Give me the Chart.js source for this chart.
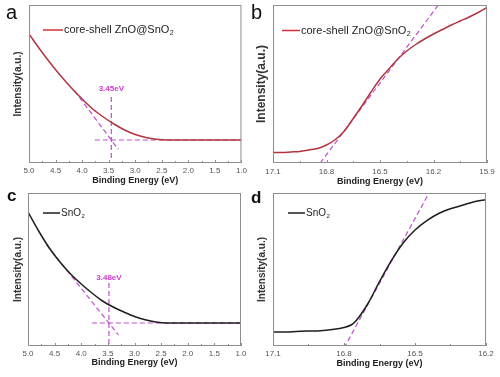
<!DOCTYPE html>
<html lang="en">
<head>
<meta charset="UTF-8">
<title>Binding energy panels</title>
<script src="https://cdn.jsdelivr.net/npm/chart.js"></script>
<style>
  body { margin: 0; background: #fff; }
  .wrap { position: relative; width: 500px; height: 377px; overflow: hidden; }
  canvas { position: absolute; }
  #chartA { left: 0; top: 0; }
  #chartB { left: 250px; top: 0; }
  #chartC { left: 0; top: 188px; }
  #chartD { left: 250px; top: 188px; }
</style>
</head>
<body>
<div class="wrap">
  <canvas id="chartA" width="250" height="190"></canvas>
  <canvas id="chartB" width="250" height="190"></canvas>
  <canvas id="chartC" width="250" height="189"></canvas>
  <canvas id="chartD" width="250" height="189"></canvas>
</div>
<script>
// panel a: core-shell ZnO@SnO2, valence band edge
const energyA = [5.0, 4.8, 4.6, 4.4, 4.2, 4.0, 3.8, 3.6, 3.4, 3.2, 3.0, 2.8, 2.6, 2.4, 2.2, 2.0, 1.8, 1.6, 1.4, 1.2, 1.0];
const intensityA = [129, 114, 100, 87, 75, 64, 54, 46, 39, 33, 28.5, 25.5, 23.7, 23, 23, 23, 23, 23, 23, 23, 23];
const tangentA = [{ x: 4.14, y: 72 }, { x: 3.32, y: 13.7 }];
const dropA = [{ x: 3.45, y: 66 }, { x: 3.45, y: 4 }];
const baseA = [{ x: 3.76, y: 23 }, { x: 1.0, y: 23 }];
const ticksA = [5.0, 4.5, 4.0, 3.5, 3.0, 2.5, 2.0, 1.5, 1.0];

// panel b: core-shell ZnO@SnO2, secondary electron cutoff
const energyB = [17.1, 17.05, 17.0, 16.95, 16.9, 16.85, 16.8, 16.75, 16.7, 16.65, 16.6, 16.55, 16.5,
                 16.45, 16.4, 16.35, 16.3, 16.25, 16.2, 16.15, 16.1, 16.05, 16.0, 15.95, 15.9];
const intensityB = [10.5, 10.5, 11, 11.5, 13, 14.5, 18, 23.5, 32, 44.5, 57.5, 71, 84,
                    94, 104, 112, 118.5, 124, 129, 133.5, 138, 142, 146, 150.5, 155.5];
const tangentB = [{ x: 16.835, y: 0 }, { x: 16.15, y: 163.5 }];
const ticksB = [17.1, 16.8, 16.5, 16.2, 15.9];

// panel c: SnO2, valence band edge
const energyC = [5.0, 4.8, 4.6, 4.4, 4.2, 4.0, 3.8, 3.6, 3.4, 3.2, 3.0, 2.8, 2.6, 2.4, 2.2, 2.0, 1.8, 1.6, 1.4, 1.2, 1.0];
const intensityC = [134, 115, 98, 84, 72, 62, 53, 45, 39, 34, 29.5, 26.2, 24, 23, 23, 23, 23, 23, 23, 23, 23];
const tangentC = [{ x: 4.65, y: 101 }, { x: 3.30, y: 11 }];
const dropC = [{ x: 3.48, y: 63 }, { x: 3.48, y: 1.3 }];
const baseC = [{ x: 3.8, y: 23 }, { x: 1.0, y: 23 }];
const ticksC = [5.0, 4.5, 4.0, 3.5, 3.0, 2.5, 2.0, 1.5, 1.0];

// panel d: SnO2, secondary electron cutoff
const energyD = [17.1, 17.05, 17.0, 16.95, 16.9, 16.85, 16.8, 16.77, 16.75, 16.7, 16.65, 16.6, 16.55,
                 16.5, 16.45, 16.4, 16.35, 16.3, 16.25, 16.2];
const intensityD = [14, 14, 14.5, 15, 15.3, 16.5, 18.5, 21, 25, 42, 64.3, 85.3, 103,
                    116, 125.4, 132.5, 137.2, 140.7, 144.2, 146.3];
const tangentD = [{ x: 16.80, y: -2 }, { x: 16.42, y: 162 }];
const ticksD = [17.1, 16.8, 16.5, 16.2];

const FONT = '"Liberation Sans", Arial, sans-serif';
Chart.defaults.font.family = FONT;
const dashColor = '#c04ed0';

// frame, inward ticks, panel letter, legend and the eV note
const decor = {
    id: 'decor',
    afterDraw(chart, args, o) {
        const { ctx, chartArea: a, scales: { x, y } } = chart;
        ctx.save();
        ctx.strokeStyle = '#8e8e8e';
        ctx.lineWidth = 1;
        ctx.beginPath();
        o.ticks.forEach((v, i) => {
            const px = Math.round(x.getPixelForValue(v)) + 0.5;
            ctx.moveTo(px, a.bottom);
            ctx.lineTo(px, a.bottom - 3);
            if (i < o.ticks.length - 1) {
                const m = Math.round(x.getPixelForValue((v + o.ticks[i + 1]) / 2)) + 0.5;
                ctx.moveTo(m, a.bottom);
                ctx.lineTo(m, a.bottom - 2);
            }
        });
        ctx.stroke();
        ctx.strokeRect(a.left + 0.5, a.top + 0.5, a.right - a.left - 1, a.bottom - a.top - 1);

        ctx.fillStyle = '#111';
        ctx.font = o.letterFont;
        ctx.textBaseline = 'alphabetic';
        ctx.fillText(o.letter, o.letterX, o.letterY);

        ctx.strokeStyle = o.legendColor;
        ctx.lineWidth = 1.5;
        ctx.beginPath();
        ctx.moveTo(o.legendX, o.legendY);
        ctx.lineTo(o.legendX + o.legendLen, o.legendY);
        ctx.stroke();
        ctx.fillStyle = '#222';
        ctx.textBaseline = 'middle';
        ctx.font = o.legendSize + 'px ' + FONT;
        const tx = o.legendX + o.legendLen + 1;
        ctx.fillText(o.legendText, tx, o.legendY);
        const w = ctx.measureText(o.legendText).width;
        ctx.font = Math.round(o.legendSize * 0.6) + 'px ' + FONT;
        ctx.fillText('2', tx + w + 0.5, o.legendY + o.legendSize * 0.32);

        if (o.note) {
            ctx.font = 'bold 8px ' + FONT;
            ctx.fillStyle = '#d03ad0';
            ctx.textAlign = 'center';
            ctx.fillText(o.note.text, x.getPixelForValue(o.note.x), y.getPixelForValue(o.note.y));
        }
        ctx.restore();
    }
};

function makePanel(id, p) {
    const sets = [{
        data: p.energy.map((e, i) => ({ x: e, y: p.intensity[i] })),
        borderColor: p.color,
        borderWidth: 1.5,
        pointRadius: 0,
        cubicInterpolationMode: 'monotone'
    }];
    p.guides.forEach(g => sets.push({
        data: g,
        borderColor: dashColor,
        borderWidth: 1.2,
        borderDash: [5, 3],
        pointRadius: 0
    }));
    return new Chart(document.getElementById(id), {
        type: 'line',
        data: { datasets: sets },
        options: {
            responsive: false,
            animation: false,
            layout: { padding: { left: 0, top: 5, right: p.padRight, bottom: 0 } },
            plugins: {
                legend: { display: false },
                tooltip: { enabled: false },
                decor: p.decor
            },
            scales: {
                x: {
                    type: 'linear',
                    min: p.xMin,
                    max: p.xMax,
                    reverse: true,
                    afterBuildTicks: s => { s.ticks = p.ticks.map(v => ({ value: v })); },
                    afterFit: s => { s.height = p.xHeight; },
                    grid: { display: false, drawTicks: false },
                    border: { display: false },
                    ticks: {
                        padding: p.tickPad, color: '#555', font: { size: 8 },
                        maxRotation: 0, autoSkip: false,
                        callback: v => v.toFixed(1)
                    },
                    title: {
                        display: true, text: 'Binding Energy (eV)', color: '#222',
                        font: { size: 9, weight: 'bold', lineHeight: 1 },
                        padding: { top: 0, bottom: p.xTitlePad }
                    }
                },
                y: {
                    min: 0,
                    max: p.yMax,
                    afterFit: s => { s.width = p.yWidth; },
                    grid: { display: false, drawTicks: false },
                    border: { display: false },
                    ticks: { display: false },
                    title: {
                        display: true, text: 'Intensity(a.u.)', color: '#333',
                        font: { size: p.yTitleSize, weight: 'bold', lineHeight: 1 },
                        padding: { top: p.yTitlePad, bottom: 0 }
                    }
                }
            }
        },
        plugins: [decor]
    });
}

makePanel('chartA', {
    energy: energyA, intensity: intensityA, color: '#b3343f',
    guides: [tangentA, dropA, baseA], ticks: ticksA, xMin: 1.0, xMax: 5.0, yMax: 158,
    padRight: 8, yWidth: 29, xHeight: 27, tickPad: 3, xTitlePad: 4.5, yTitleSize: 10, yTitlePad: 13,
    decor: {
        ticks: ticksA, letter: 'a', letterFont: '20px ' + FONT, letterX: 6, letterY: 19,
        legendText: 'core-shell ZnO@SnO', legendColor: '#d8303a', legendSize: 11,
        legendX: 43, legendY: 30, legendLen: 20,
        note: { text: '3.45eV', x: 3.45, y: 74 }
    }
});

makePanel('chartB', {
    energy: energyB, intensity: intensityB, color: '#b3343f',
    guides: [tangentB], ticks: ticksB, xMin: 15.9, xMax: 17.1, yMax: 158,
    padRight: 13, yWidth: 23, xHeight: 27, tickPad: 4, xTitlePad: 3.8, yTitleSize: 12, yTitlePad: 6,
    decor: {
        ticks: ticksB, letter: 'b', letterFont: '20px ' + FONT, letterX: 1, letterY: 19,
        legendText: 'core-shell ZnO@SnO', legendColor: '#d8303a', legendSize: 11,
        legendX: 32, legendY: 30.5, legendLen: 18
    }
});

makePanel('chartC', {
    energy: energyC, intensity: intensityC, color: '#1e1e1e',
    guides: [tangentC, dropC, baseC], ticks: ticksC, xMin: 1.0, xMax: 5.0, yMax: 153,
    padRight: 9, yWidth: 28, xHeight: 31, tickPad: 3, xTitlePad: 9.5, yTitleSize: 10, yTitlePad: 13,
    decor: {
        ticks: ticksC, letter: 'c', letterFont: 'bold 17px ' + FONT, letterX: 7, letterY: 13,
        legendText: 'SnO', legendColor: '#1e1e1e', legendSize: 10,
        legendX: 43, legendY: 25, legendLen: 17,
        note: { text: '3.48eV', x: 3.48, y: 68.7 }
    }
});

makePanel('chartD', {
    energy: energyD, intensity: intensityD, color: '#1e1e1e',
    guides: [tangentD], ticks: ticksD, xMin: 16.2, xMax: 17.1, yMax: 153,
    padRight: 14, yWidth: 23, xHeight: 31, tickPad: 3, xTitlePad: 8.5, yTitleSize: 10, yTitlePad: 7,
    decor: {
        ticks: ticksD, letter: 'd', letterFont: 'bold 17px ' + FONT, letterX: 1, letterY: 15,
        legendText: 'SnO', legendColor: '#1e1e1e', legendSize: 10,
        legendX: 38, legendY: 25, legendLen: 17
    }
});
</script>
</body>
</html>
